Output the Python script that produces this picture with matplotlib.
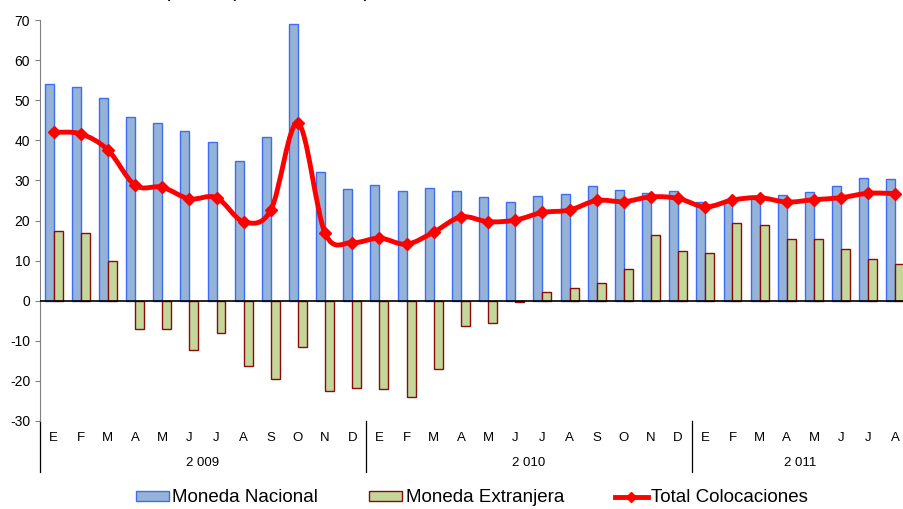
import numpy as np
import matplotlib.pyplot as plt
from matplotlib.path import Path
from matplotlib.patches import PathPatch, Patch
from matplotlib.lines import Line2D
import matplotlib.transforms as mtransforms

plt.rcParams['font.family'] = ['Liberation Sans', 'DejaVu Sans']
plt.rcParams['axes.unicode_minus'] = False

meses = ['E', 'F', 'M', 'A', 'M', 'J', 'J', 'A', 'S', 'O', 'N', 'D',
         'E', 'F', 'M', 'A', 'M', 'J', 'J', 'A', 'S', 'O', 'N', 'D',
         'E', 'F', 'M', 'A', 'M', 'J', 'J', 'A']
anios = ['2 009', '2 010', '2 011']
meses_por_anio = [12, 12, 8]

nacional = [54.1, 53.4, 50.6, 45.8, 44.3, 42.4, 39.6, 34.8, 40.8, 68.9, 32.0, 27.8,
            28.8, 27.3, 28.1, 27.3, 25.8, 24.6, 26.1, 26.5, 28.7, 27.5, 26.8, 27.3,
            24.7, 25.2, 26.0, 26.3, 27.1, 28.6, 30.5, 30.3]
extranjera = [17.3, 16.9, 9.9, -7.0, -7.1, -12.2, -8.0, -16.2, -19.6, -11.5, -22.6, -21.7,
              -22.0, -24.0, -17.1, -6.3, -5.5, -0.4, 2.2, 3.2, 4.4, 7.9, 16.4, 12.3,
              12.0, 19.3, 18.9, 15.4, 15.5, 12.8, 10.3, 9.1]
total = [42.0, 41.6, 37.6, 28.8, 28.3, 25.4, 25.7, 19.7, 22.6, 44.3, 16.8, 14.5,
         15.6, 14.1, 17.1, 20.9, 19.7, 20.1, 22.0, 22.6, 25.0, 24.7, 25.9, 25.5,
         23.4, 25.1, 25.7, 24.6, 25.2, 25.7, 26.8, 26.7]

AZUL, AZUL_BORDE = '#95b3d7', '#3d6cf5'
VERDE, VERDE_BORDE = '#c4d79b', '#8b0a0a'
ROJO = '#ff0000'


def smooth_path(x, y):
    # cubic bezier through every point, like a spreadsheet "smoothed line"
    pts = np.column_stack([x, y]).astype(float)
    n = len(pts)
    verts = [pts[0]]
    codes = [Path.MOVETO]
    for i in range(n - 1):
        p0 = pts[i - 1] if i > 0 else pts[i]
        p1, p2 = pts[i], pts[i + 1]
        p3 = pts[i + 2] if i + 2 < n else pts[i + 1]
        verts += [p1 + (p2 - p0) / 6, p2 - (p3 - p1) / 6, p2]
        codes += [Path.CURVE4] * 3
    return Path(verts, codes)


fig = plt.figure(figsize=(9.04, 5.09), dpi=100)
ax = fig.add_axes([40 / 904, 1 - 421 / 509, 869 / 904, 401 / 509])

x = np.arange(len(meses))
w = 0.33
ax.bar(x - w / 2, nacional, w, color=AZUL, edgecolor=AZUL_BORDE, linewidth=1.0, zorder=2)
ax.bar(x + w / 2, extranjera, w, color=VERDE, edgecolor=VERDE_BORDE, linewidth=1.0, zorder=2)
ax.axhline(0, color='black', linewidth=1.2, zorder=3)

ax.add_patch(PathPatch(smooth_path(x, total), fill=False, edgecolor=ROJO,
                       linewidth=3.5, capstyle='round', joinstyle='round', zorder=4))
ax.plot(x, total, linestyle='none', marker='D', markersize=6, color=ROJO, zorder=5)

ax.set_xlim(-0.5, len(meses) - 0.5)
ax.set_ylim(-30, 70)
ax.set_yticks(range(-30, 71, 10))
ax.tick_params(axis='y', labelsize=10, length=3.6, color='#808080', pad=3.5)
ax.set_xticks([])
for s in ['top', 'right', 'bottom']:
    ax.spines[s].set_visible(False)
ax.spines['left'].set_color('#808080')

# month letters, year names and the year dividers below the plot
trans = mtransforms.blended_transform_factory(ax.transData, ax.transAxes)
for i, m in enumerate(meses):
    ax.text(i, -0.042, m, transform=trans, ha='center', va='center', fontsize=9.5)
inicio = 0
for anio, k in zip(anios, meses_por_anio):
    ax.text(inicio + (k - 1) / 2, -0.105, anio, transform=trans,
            ha='center', va='center', fontsize=9.5)
    ax.plot([inicio - 0.5, inicio - 0.5], [0, -0.127], transform=trans,
            color='black', linewidth=0.9, clip_on=False)
    inicio += k

# chart title sits mostly above the top edge of the figure
fig.text(0.295, 1.003, '(Variación porcentual 12 meses)', ha='center',
         va='baseline', fontsize=9.5, fontweight='bold')

handles = [Patch(facecolor=AZUL, edgecolor=AZUL_BORDE, label='Moneda Nacional'),
           Patch(facecolor=VERDE, edgecolor=VERDE_BORDE, label='Moneda Extranjera'),
           Line2D([], [], color=ROJO, linewidth=3.5, marker='D', markersize=5,
                  label='Total Colocaciones')]
fig.legend(handles=handles, loc='center', bbox_to_anchor=(0.522, 1 - 498 / 509),
           ncol=3, frameon=False, fontsize=13.5, handlelength=1.76, handleheight=0.5,
           handletextpad=0.2, columnspacing=2.7, borderpad=0)

fig.savefig('out.png', dpi=100)
